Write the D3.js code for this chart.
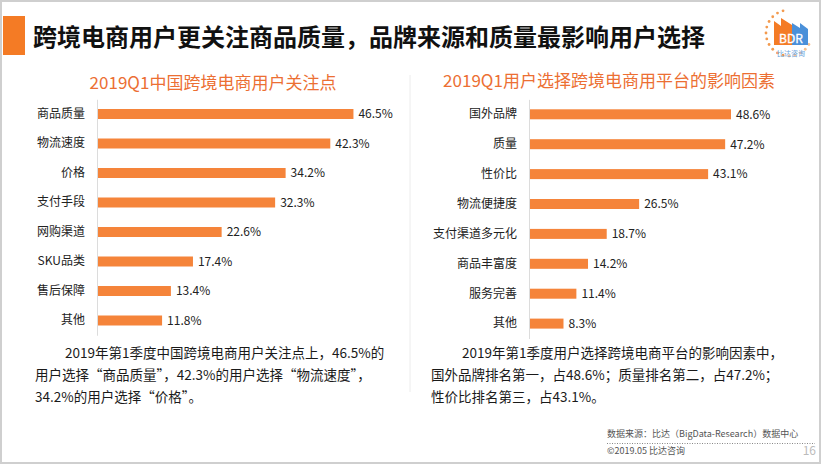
<!DOCTYPE html>
<html><head><meta charset="utf-8">
<script src="https://cdn.jsdelivr.net/npm/d3@7/dist/d3.min.js"></script>
<style>
html,body{margin:0;padding:0;background:#fff;}
svg text{font-family:"Noto Sans CJK SC","Noto Sans",sans-serif;}
</style></head>
<body><svg id="c" width="822" height="465"></svg>
<script>
const title = "跨境电商用户更关注商品质量，品牌来源和质量最影响用户选择";
const leftTitle = "2019Q1中国跨境电商用户关注点";
const rightTitle = "2019Q1用户选择跨境电商用平台的影响因素";
const leftCats = ["商品质量","物流速度","价格","支付手段","网购渠道","SKU品类","售后保障","其他"];
const leftVals = [46.5,42.3,34.2,32.3,22.6,17.4,13.4,11.8];
const rightCats = ["国外品牌","质量","性价比","物流便捷度","支付渠道多元化","商品丰富度","服务完善","其他"];
const rightVals = [48.6,47.2,43.1,26.5,18.7,14.2,11.4,8.3];
const leftText = ["2019年第1季度中国跨境电商用户关注点上，46.5%的","用户选择“商品质量”，42.3%的用户选择“物流速度”，","34.2%的用户选择“价格”。"];
const rightText = ["2019年第1季度用户选择跨境电商平台的影响因素中，","国外品牌排名第一，占48.6%；质量排名第二，占47.2%；","性价比排名第三，占43.1%。"];
const sourceText = "数据来源：比达（BigData-Research）数据中心";
const footText = "©2019.05  比达咨询";
const pageNum = "16";

const svg = d3.select("#c");
const ORANGE = "#f5843a";

// frame
svg.append("rect").attr("x",1).attr("y",1).attr("width",819).attr("height",462)
  .attr("fill","none").attr("stroke","#cfcfcf").attr("stroke-width",2);

// title
svg.append("rect").attr("x",3).attr("y",16).attr("width",22).attr("height",39).attr("fill","#f47b25");
svg.append("text").attr("x",33).attr("y",46).attr("font-size",24).attr("font-weight","bold")
  .attr("fill","#111").text(title);

// logo
const logo = svg.append("g");
const lc = [789,33], lr = 23;
d3.range(0,16).forEach(i=>{
  const a = (105 + i*15) * Math.PI/180;
  logo.append("circle").attr("cx",lc[0]+lr*Math.cos(a)).attr("cy",lc[1]-lr*Math.sin(a))
    .attr("r",1.4).attr("fill", i<11 ? "#f39a4e" : "#f7c08f");
});
logo.append("path").attr("d","M774,45 L774,21 L781,26 L781,18 L792,25 L792,45 Z").attr("fill","#f47b25");
logo.append("path").attr("d","M792,45 L792,23 L800,28 L800,23 L808,29 L808,45 Z").attr("fill","#4a90d9");
logo.append("text").attr("x",791).attr("y",43).attr("text-anchor","middle").attr("font-size",12)
  .attr("fill","#fff").attr("stroke","#fff").attr("stroke-width",0.3).text("BDR");
logo.append("text").attr("x",791).attr("y",56).attr("text-anchor","middle").attr("font-size",7)
  .attr("fill","#6aa3dd").text("比达咨询");

// separator
svg.append("line").attr("x1",410).attr("x2",410).attr("y1",75).attr("y2",392)
  .attr("stroke","#ececec").attr("stroke-width",1);

function chart(cats, vals, sub, subX, subY, axisX, pxPer, bandTop, step){
  svg.append("text").attr("x",subX).attr("y",subY).attr("text-anchor","middle")
    .attr("font-size",17).attr("fill","#ec6f33").text(sub);
  const y = d3.scaleBand().domain(cats).range([bandTop, bandTop+step*cats.length]).padding(0);
  const x = d3.scaleLinear().domain([0,50]).range([axisX, axisX+50*pxPer]);
  const g = svg.append("g");
  const data = cats.map((c,i)=>({c, v: vals[i]}));
  g.selectAll("rect.bar").data(data).join("rect").attr("class","bar")
    .attr("x",x(0)).attr("y",d=>y(d.c)+y.bandwidth()/2-5)
    .attr("width",d=>x(d.v)-x(0)).attr("height",10).attr("fill",ORANGE);
  g.selectAll("text.val").data(data).join("text").attr("class","val")
    .attr("x",d=>x(d.v)+5).attr("y",d=>y(d.c)+y.bandwidth()/2).attr("dy","0.36em")
    .attr("font-size",12).attr("fill","#222").text(d=>d.v.toFixed(1)+"%");
  const ax = svg.append("g").attr("transform",`translate(${axisX},0)`)
    .call(d3.axisLeft(y).tickSize(0).tickPadding(12));
  ax.select(".domain").attr("stroke","#dcdcdc");
  ax.selectAll("text").attr("font-size",12).attr("fill","#222")
    .style("font-family",'"Noto Sans CJK SC",sans-serif');
}
chart(leftCats, leftVals, leftTitle, 213, 89, 97, 5.515, 99.25, 29.5);
chart(rightCats, rightVals, rightTitle, 609, 87, 529, 4.156, 99.35, 29.9);

function para(lines, x1, x2){
  lines.forEach((t,i)=>{
    svg.append("text").attr("x", i===0 ? x1 : x2).attr("y", 358 + i*22)
      .attr("font-size",13.5).attr("fill","#1a1a1a").text(t);
  });
}
para(leftText, 65, 35);
para(rightText, 462, 431);

// footer
svg.append("text").attr("x",607).attr("y",437).attr("font-size",9).attr("fill","#555").text(sourceText);
svg.append("line").attr("x1",607).attr("x2",815).attr("y1",443.5).attr("y2",443.5)
  .attr("stroke","#888").attr("stroke-width",1).attr("stroke-dasharray","1,1.5");
svg.append("text").attr("x",607).attr("y",454).attr("font-size",9).attr("fill","#555").text(footText);
svg.append("text").attr("x",816).attr("y",455).attr("text-anchor","end").attr("font-size",12)
  .attr("fill","#bbb").text(pageNum);
</script></body></html>
